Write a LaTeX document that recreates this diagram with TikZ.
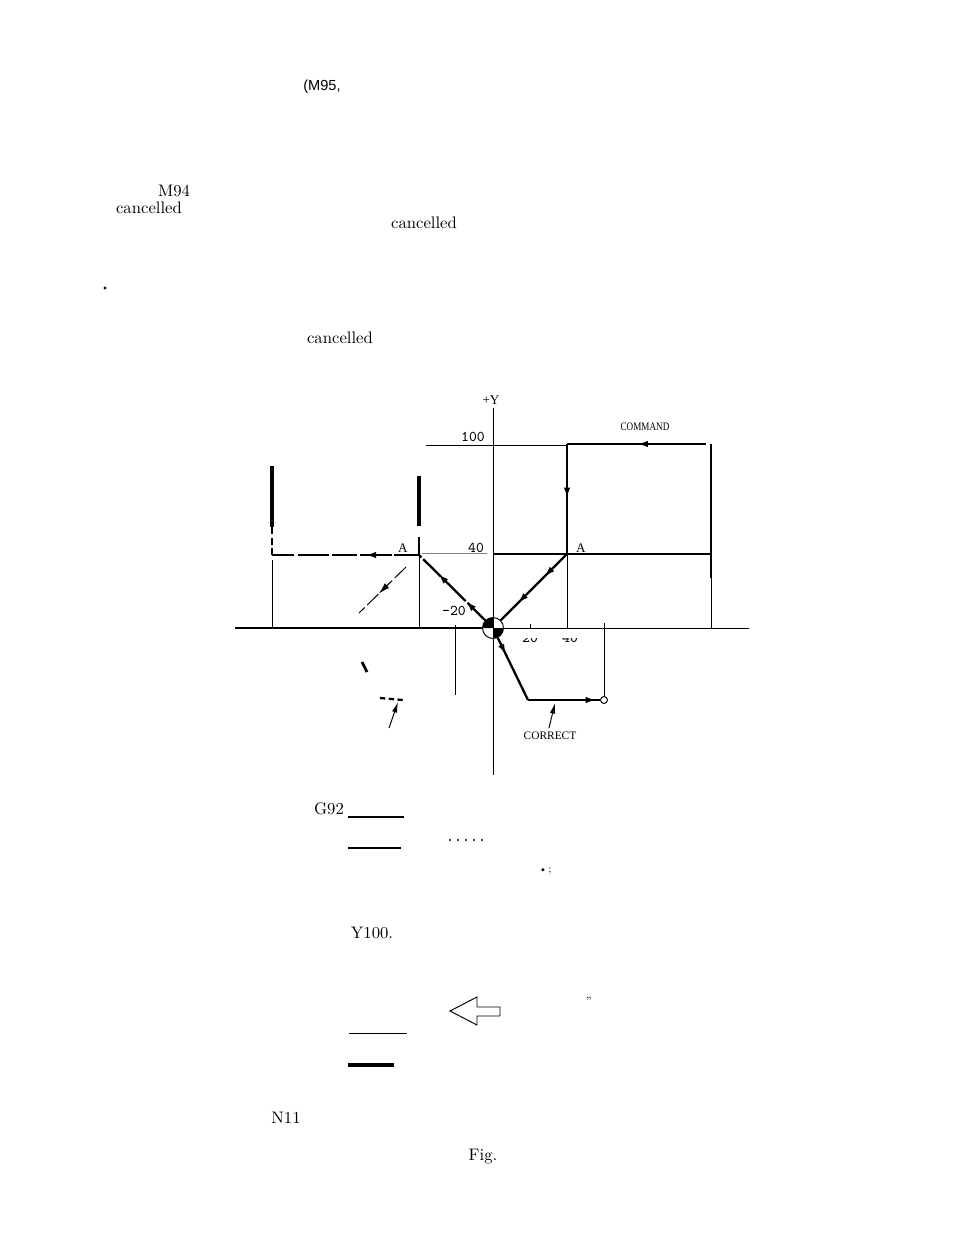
\documentclass[tikz,border=0pt]{standalone}
\usepackage{fontspec}
\usepackage{xcolor}
\newfontfamily\helv{Liberation Sans}
\newfontfamily\tms{Liberation Serif}
\newfontfamily\tmsn[FakeStretch=0.8]{Liberation Serif}
\usetikzlibrary{arrows.meta}
\usetikzlibrary{decorations.markings}
\usetikzlibrary{positioning, calc}

\tikzset{
    thinline/.style={line width=0.55pt},
    boldline/.style={line width=1.3pt},
    heavyline/.style={line width=2.1pt},
    dashline/.style={line width=1.3pt, dash pattern=on 14pt off 1.5pt on 18pt off 2pt},
    arrowat/.style={postaction={decorate,decoration={markings,
        mark=at position #1 with {\arrow{Latex[length=6.5pt,width=3.6pt]}}}}},
    body/.style={inner sep=0pt, font=\fontsize{9.5}{11}\selectfont},
    tiny/.style={inner sep=0pt, font=\tms\fontsize{6.5}{8}\selectfont},
    dim/.style={inner sep=0pt, font=\fontsize{8.5}{10}\ttfamily\selectfont},
}

\begin{document}
\begin{tikzpicture}[x=0.02cm,y=-0.02cm]
    \useasboundingbox (0,0) rectangle (954,1237);

    % text above the figure
    \node[inner sep=0pt,font=\helv\fontsize{8.3}{10}\selectfont] (M95) at (322,87) {(M95,};
    \node[body] (M94) at (174,191) {M94};
    \node[body] (can1) at (149,208) {cancelled};
    \node[body] (can2) at (424,223) {cancelled};
    \node[circle,fill,inner sep=0pt,minimum size=1.8pt] (dot1) at (105,288) {};
    \node[body] (can3) at (340,338) {cancelled};

    % corner points
    \coordinate (O) at (493,628);
    \coordinate (Xa) at (235,628);
    \coordinate (Xb) at (749,628);
    \coordinate (Ya) at (493,408);
    \coordinate (Yb) at (493,775);
    \coordinate (H1) at (426,445);
    \coordinate (H2) at (567,445);
    \coordinate (P1) at (567,444);
    \coordinate (P2) at (706,444);
    \coordinate (P3) at (567,554);
    \coordinate (P4) at (711,554);
    \coordinate (P5) at (711,444);
    \coordinate (P6) at (711,578);
    \coordinate (P7) at (711,628);
    \coordinate (P8) at (493,554);
    \coordinate (Q1) at (419,555);
    \coordinate (Q2) at (272,555);
    \coordinate (Q3) at (272,527);
    \coordinate (Q4) at (272,466);
    \coordinate (Q5) at (272,560);
    \coordinate (Q6) at (272,628);
    \coordinate (Q7) at (419,476);
    \coordinate (Q8) at (419,526);
    \coordinate (Q9) at (419,537);
    \coordinate (Q10) at (419,628);
    \coordinate (D1) at (406,567);
    \coordinate (D2) at (359,613);
    \coordinate (T1) at (455,625);
    \coordinate (T2) at (455,695);
    \coordinate (T3) at (567,628);
    \coordinate (T4) at (604,623);
    \coordinate (T5) at (530,624);
    \coordinate (T6) at (530,628);
    \coordinate (C1) at (528,700);
    \coordinate (F1) at (422,553);
    \coordinate (F2) at (487,553);
    \coordinate (C2) at (549,728);
    \coordinate (C3) at (555,703);
    \coordinate (L1) at (389,728);
    \coordinate (L2) at (398,702);
    \coordinate (L3) at (380,698);
    \coordinate (L4) at (403,700);
    \coordinate (B1) at (362,662);
    \coordinate (B2) at (367,672);

    % axes
    \draw[boldline] (Xa)--(O);
    \draw[thinline] (O)--(Xb);
    \draw[thinline] (T5)--(T6);

    % origin and end point
    \node[circle,draw,fill=white,thinline,minimum size=0.42cm,inner sep=0pt] (org) at (O) {};
    \fill (O) -- ++(-10.5,0) arc[start angle=180,end angle=90,radius=5.95pt] -- cycle;
    \fill (O) -- ++(10.5,0) arc[start angle=0,end angle=-90,radius=5.95pt] -- cycle;
    \draw[thinline] (Ya)--(Yb);
    \node[circle,draw,fill=white,thinline,minimum size=0.14cm,inner sep=0pt] (endp) at (604,700) {};

    % command path, right side
    \draw[thinline] (H1)--(H2);
    \draw[boldline,arrowat=0.5] (P2)--(P1);
    \draw[boldline,arrowat=0.5] (P1)--(P3);
    \draw[boldline] (P8)--(P4);
    \draw[boldline] (P5)--(P6);
    \draw[thinline] (P6)--(P7);
    \draw[thinline] (P3)--(T3);
    \draw[boldline,arrowat=0.35,arrowat=0.75] (P3)--(org);

    % left side
    \draw[heavyline] (Q4)--(Q3);
    \draw[boldline,dash pattern=on 4pt off 2pt] (Q3)--(Q2);
    \draw[dashline,arrowat=0.37] (Q1)--(Q2);
    \draw[thinline] (Q5)--(Q6);
    \draw[heavyline] (Q7)--(Q8);
    \draw[boldline] (Q9)--(Q1);
    \draw[thinline] (Q1)--(Q10);
    \draw[dashline,arrowat=0.3,arrowat=0.72] (org)--(Q1);
    \draw[thinline,dash pattern=on 9pt off 2pt,arrowat=0.58] (D1)--(D2);
    \draw[thinline,gray] (F1)--(F2);
    \draw[thinline] (T1)--(T2);

    % correct path
    \draw[boldline,arrowat=0.28] (org)--(C1);
    \draw[boldline,arrowat=0.96] (C1)--(endp);
    \draw[thinline] (T4)--(endp);
    \draw[thinline,-{Latex[length=6pt,width=3pt]}] (C2)--(C3);
    \draw[thinline,-{Latex[length=6pt,width=3pt]}] (L1)--(L2);
    \draw[boldline,dash pattern=on 3pt off 2pt] (L3)--(L4);
    \draw[line width=1.6pt] (B1)--(B2);

    % labels of the figure
    \node[inner sep=0pt,font=\tms\fontsize{7.5}{9}\selectfont] (plusY) at (491,400) {+Y};
    \node[dim] (n100) at (473,437) {100};
    \node[dim] (n40) at (476,548) {40};
    \node[dim] (n20) at (454,611) {-20};
    \node[inner sep=0pt,font=\tms\fontsize{7.5}{9}\selectfont] (A1) at (403,548) {A};
    \node[inner sep=0pt,font=\tms\fontsize{7.5}{9}\selectfont] (A2) at (581,548) {A};
    \node[inner sep=0pt,font=\tmsn\fontsize{6.5}{8}\selectfont] (command) at (645,427) {COMMAND};
    \node[tiny] (correct) at (550,736) {CORRECT};
    \begin{scope}
        \clip (515,638) rectangle (585,650);
        \node[dim] (p20) at (530,638) {20};
        \node[dim] (p40) at (570,638) {40};
    \end{scope}

    % text below the figure
    \node[body] (G92) at (329,809) {G92};
    \coordinate (r1a) at (348,817);
    \coordinate (r1b) at (404,817);
    \coordinate (r2a) at (348,848);
    \coordinate (r2b) at (401,848);
    \coordinate (r3a) at (349,1033);
    \coordinate (r3b) at (407,1033);
    \coordinate (r4a) at (348,1065);
    \coordinate (r4b) at (394,1065);
    \draw[boldline] (r1a)--(r1b);
    \draw[boldline] (r2a)--(r2b);
    \draw[thinline] (r3a)--(r3b);
    \draw[heavyline] (r4a)--(r4b);
    \foreach \i in {450,458,466,474,482}
        \fill (\i,840) circle (0.6pt);
    \node[inner sep=0pt,font=\fontsize{6}{7}\selectfont] (semi) at (545,871) {\textbullet;};
    \node[body] (Y100) at (372,933) {Y100.};
    \draw[thinline] (450,1011)--(477,997)--(477,1007)--(500,1007)--(500,1016)--(477,1016)--(477,1025)--cycle;
    \node[inner sep=0pt,font=\fontsize{6}{7}\selectfont] (quote) at (589,1001) {"};
    \node[body] (N11) at (286,1118) {N11};
    \node[body] (Fig) at (483,1157) {Fig.};
\end{tikzpicture}
\end{document}
